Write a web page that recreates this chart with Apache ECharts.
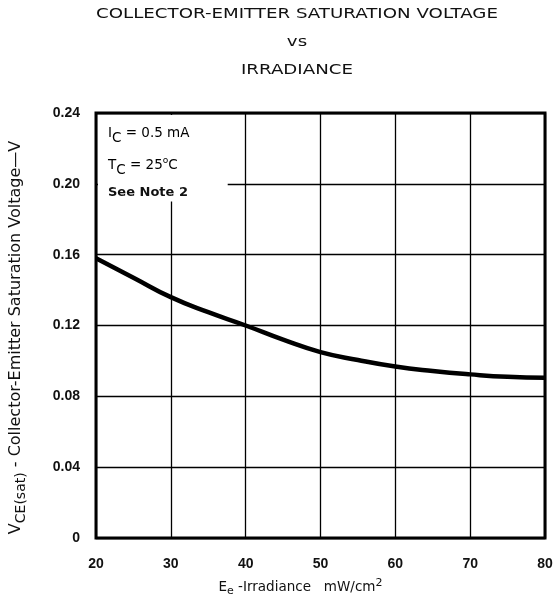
<!DOCTYPE html>
<html><head><meta charset="utf-8">
<script src="https://cdn.jsdelivr.net/npm/echarts@6/dist/echarts.min.js"></script>
<style>html,body{margin:0;padding:0;background:#fff;overflow:hidden}#c{width:558px;height:602px}</style>
</head><body><div id="c"></div>
<script>
const irradiance = [20, 25, 30, 35, 40, 45, 50, 55, 60, 65, 70, 75, 80];
const vceSat = [0.158, 0.147, 0.136, 0.1275, 0.12, 0.112, 0.105, 0.1005, 0.0968, 0.0943, 0.0924, 0.091, 0.0905];
const titleLines = ['COLLECTOR-EMITTER SATURATION VOLTAGE', 'vs', 'IRRADIANCE'];
const noteLines = ['Ic', 'Tc', 'See Note 2'];

const chart = echarts.init(document.getElementById('c'));
const F = '"Liberation Sans", Arial, sans-serif';
const D = '"DejaVu Sans", sans-serif';
const option = {
  animation: false,
  backgroundColor: '#fff',
  grid: { left: 95, right: 13, top: 113, height: 432, show: true, borderColor: '#000', borderWidth: 3, backgroundColor: 'transparent' },
  xAxis: {
    type: 'value', min: 20, max: 80, interval: 10,
    axisLine: { show: false }, axisTick: { show: false },
    splitLine: { show: true, lineStyle: { color: '#000', width: 1.3 } },
    axisLabel: { color: '#111', fontFamily: F, fontSize: 14, fontWeight: 'bold', margin: 19 },
    name: '{n|E}{s|e}{n| -Irradiance   mW/cm}{p|2}',
    nameLocation: 'middle', nameGap: 40,
    nameTextStyle: { padding: [0, 40, 0, 0], rich: {
      n: { fontFamily: D, fontSize: 13.5, color: '#111' },
      s: { fontFamily: D, fontSize: 11, color: '#111', padding: [8, 0, 0, 0] },
      p: { fontFamily: D, fontSize: 11, color: '#111', padding: [0, 0, 8, 0] } } }
  },
  yAxis: {
    type: 'value', min: 0, max: 0.24, interval: 0.04,
    axisLine: { show: false }, axisTick: { show: false },
    splitLine: { show: true, lineStyle: { color: '#000', width: 1.3 } },
    axisLabel: { color: '#111', fontFamily: F, fontSize: 14, fontWeight: 'bold', margin: 16,
      formatter: v => v === 0 ? '0' : v.toFixed(2) },
    name: '{n|V}{s|CE(sat)}{n| - Collector-Emitter Saturation Voltage—V}',
    nameLocation: 'middle', nameGap: 68, nameRotate: 90,
    nameTextStyle: { padding: [0, 24, 0, 0], rich: {
      n: { fontFamily: D, fontSize: 16, color: '#111' },
      s: { fontFamily: D, fontSize: 14, color: '#111', padding: [10, 0, 0, 0] } } }
  },
  series: [{
    type: 'line', smooth: true, symbol: 'none', z: 5,
    lineStyle: { color: '#000', width: 4.5 },
    data: irradiance.map((x, i) => [x, vceSat[i]])
  }],
  graphic: titleLines.map((t, i) => ({
    type: 'text', silent: true, x: 297, y: 7 + i * 28, scaleX: 1.3,
    style: { text: t, x: 0, y: 0, align: 'center', fontFamily: D, fontSize: 14, fill: '#111' }
  }))
};
chart.setOption(option);

// white box behind the note, in data coordinates
const p0 = chart.convertToPixel({ gridIndex: 0 }, [20, 0.24]);
const p1 = chart.convertToPixel({ gridIndex: 0 }, [37.6, 0.19]);
const R = {
  n: { fontFamily: D, fontSize: 13.5, color: '#111' },
  s: { fontFamily: D, fontSize: 13.5, color: '#111', padding: [10, 0, 0, 0] },
  u: { fontFamily: D, fontSize: 9, color: '#111', padding: [0, 0, 8, 0] }
};
chart.setOption({
  graphic: option.graphic.concat([
    { type: 'rect', z: 3, silent: true,
      shape: { x: p0[0] + 2, y: p0[1] + 2, width: p1[0] - p0[0] - 2, height: p1[1] - p0[1] - 2 },
      style: { fill: '#fff' } },
    { type: 'text', z: 4, silent: true, style: { x: p0[0] + 12, y: p0[1] + 8, rich: R,
      text: '{n|I}{s|C}{n| = 0.5 mA}' } },
    { type: 'text', z: 4, silent: true, style: { x: p0[0] + 12, y: p0[1] + 40, rich: R,
      text: '{n|T}{s|C}{n| = 25}{u|o}{n|C}' } },
    { type: 'text', z: 4, silent: true, style: { x: p0[0] + 12, y: p0[1] + 73,
      text: noteLines[2], fontFamily: D, fontSize: 13, fontWeight: 'bold', fill: '#111' } }
  ])
});
</script></body></html>
